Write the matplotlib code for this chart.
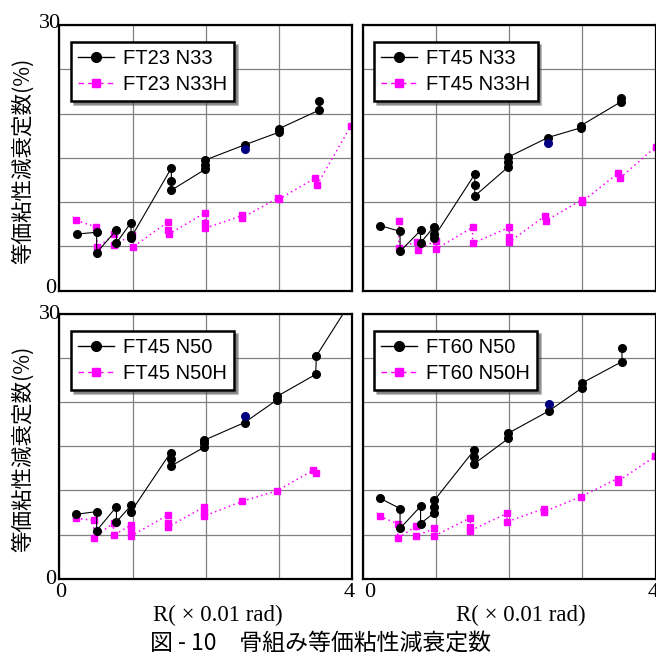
import matplotlib
matplotlib.use('Agg')
import matplotlib.pyplot as plt
from matplotlib.lines import Line2D
from matplotlib.transforms import ScaledTranslation

plt.rcParams['font.family'] = ['Liberation Sans', 'Noto Sans CJK JP', 'DejaVu Sans']

names = ['FT23 N33', 'FT45 N33', 'FT45 N50', 'FT60 N50']

# black series (normal frame), R in 0.01 rad, h in %
bx1 = [0.24, 0.51, 0.51, 0.78, 0.78, 0.98, 0.98, 0.98, 1.53, 1.53, 1.53, 1.99, 1.99, 1.99, 2.54, 3.0, 3.0, 3.55, 3.55]
by1 = [6.4, 6.6, 4.3, 6.85, 5.4, 7.7, 6.3, 6.0, 13.85, 12.4, 11.35, 13.7, 14.2, 14.75, 16.5, 17.9, 18.3, 20.4, 21.4]
bx2 = [0.24, 0.51, 0.51, 0.79, 0.79, 0.97, 0.97, 0.97, 1.53, 1.53, 1.53, 1.99, 1.99, 1.99, 2.53, 2.98, 2.98, 3.52, 3.52]
by2 = [7.35, 6.7, 4.45, 6.8, 5.4, 7.2, 6.35, 6.0, 13.15, 11.9, 10.7, 14.0, 14.5, 15.1, 17.3, 18.4, 18.65, 21.3, 21.8]
bx3 = [0.23, 0.51, 0.51, 0.78, 0.78, 0.98, 0.98, 1.52, 1.52, 1.52, 1.98, 1.98, 1.98, 2.53, 2.97, 2.97, 3.50, 3.51, 3.95]
by3 = [7.3, 7.6, 5.45, 8.15, 6.45, 8.3, 7.6, 14.3, 13.6, 12.75, 14.9, 15.35, 15.7, 17.7, 20.25, 20.65, 23.15, 25.25, 31.0]
bx4 = [0.24, 0.51, 0.51, 0.79, 0.79, 0.98, 0.98, 0.98, 1.52, 1.52, 1.52, 1.99, 1.99, 2.54, 3.0, 3.0, 3.54, 3.54]
by4 = [9.1, 7.95, 5.7, 8.2, 6.25, 7.5, 8.15, 8.9, 14.55, 13.8, 13.0, 15.9, 16.5, 19.0, 21.65, 22.2, 24.6, 26.1]
# how many black points carry a marker (rest is line only)
nmark = [19, 19, 18, 18]

# single navy point at R=2.5
blue_x = [2.53, 2.53, 2.53, 2.54]
blue_y = [15.95, 16.7, 18.45, 19.75]

# magenta series (H)
mx1 = [0.23, 0.50, 0.52, 0.75, 0.75, 0.99, 1.0, 1.49, 1.49, 1.50, 1.99, 1.99, 1.99, 2.5, 2.5, 2.99, 3.0, 3.49, 3.52, 3.98]
my1 = [7.95, 7.2, 4.9, 6.35, 5.15, 6.3, 4.9, 7.8, 6.85, 6.4, 8.8, 7.7, 7.05, 8.5, 8.25, 10.5, 10.35, 12.7, 11.95, 18.6]
mx2 = [0.50, 0.49, 0.74, 0.75, 1.0, 1.0, 1.5, 1.5, 2.0, 2.0, 2.0, 2.49, 2.5, 2.99, 2.99, 3.49, 3.51, 4.0]
my2 = [7.85, 4.8, 5.55, 4.6, 5.65, 4.7, 7.15, 5.35, 7.15, 6.05, 5.5, 8.45, 7.9, 10.25, 10.0, 13.3, 12.7, 16.25]
mx3 = [0.23, 0.47, 0.47, 0.74, 0.74, 0.98, 0.98, 0.98, 1.48, 1.48, 1.48, 1.98, 1.98, 1.98, 2.49, 2.97, 3.47, 3.50]
my3 = [6.85, 6.6, 4.65, 6.3, 4.9, 6.1, 5.5, 4.85, 7.2, 6.3, 5.85, 8.15, 7.6, 7.1, 8.75, 9.95, 12.3, 11.95]
mx4 = [0.23, 0.48, 0.48, 0.73, 0.73, 0.98, 0.98, 1.47, 1.47, 1.47, 1.97, 1.97, 2.48, 2.48, 2.98, 3.48, 3.48, 3.99]
my4 = [7.1, 6.2, 4.6, 5.95, 4.85, 5.7, 4.85, 6.9, 5.85, 5.45, 7.4, 6.45, 7.95, 7.6, 9.3, 11.35, 11.0, 13.85]

black = [(bx1, by1), (bx2, by2), (bx3, by3), (bx4, by4)]
pink = [(mx1, my1), (mx2, my2), (mx3, my3), (mx4, my4)]

fig = plt.figure(figsize=(6.56, 6.57), dpi=100)
boxes = [[0.0904, 0.5575, 0.4466, 0.4044], [0.5529, 0.5575, 0.4466, 0.4044],
         [0.0904, 0.1192, 0.4466, 0.4029], [0.5529, 0.1192, 0.4466, 0.4029]]


def shift(lab, dx, dy):
    # move a tick label by dx, dy points
    lab.set_transform(lab.get_transform() + ScaledTranslation(dx / 72, dy / 72, fig.dpi_scale_trans))


for i in range(4):
    ax = fig.add_axes(boxes[i])
    bx, by = black[i]
    mx, my = pink[i]
    ax.plot(mx, my, color='magenta', lw=1.1, ls=(0, (1, 2.2)), marker='s', ms=4.5, mec='magenta')
    ax.plot(bx, by, color='black', lw=0.8)
    n = nmark[i]
    ax.plot(bx[:n], by[:n], 'o', color='black', ms=5.5)
    ax.plot(blue_x[i], blue_y[i], 'o', color='#000080', ms=5.5)

    ax.set_xlim(0, 4)
    ax.set_ylim(0, 30)
    ax.set_xticks([0, 1, 2, 3, 4])
    ax.set_yticks([0, 5, 10, 15, 20, 25, 30])
    ax.grid(True, color='#808080', lw=0.9)
    ax.tick_params(length=0, labelsize=16, pad=-1)
    for s in ax.spines.values():
        s.set_linewidth(1.6)

    if i % 2 == 0:
        ax.set_yticklabels(['0', '', '', '', '', '', '30'], family='Liberation Serif')
        dy = 3.2 if i == 0 else 1.5
        labs = ax.get_yticklabels()
        shift(labs[0], -3.5, dy)
        shift(labs[6], 0, dy)
        ax.set_ylabel('等価粘性減衰定数(%)', family=['Noto Sans CJK JP'], fontsize=15.5)
        ax.yaxis.set_label_coords(-0.085, 0.49)
    else:
        ax.set_yticklabels([])

    if i >= 2:
        ax.set_xticklabels(['0', '', '', '', '4'], family='Liberation Serif')
        ax.tick_params(axis='x', pad=3)
        labs = ax.get_xticklabels()
        shift(labs[0], 1.2 if i == 2 else 5, 0)
        shift(labs[4], -2, 0)
        ax.set_xlabel('R( × 0.01 rad)', family='Liberation Serif', fontsize=16.5)
        ax.xaxis.set_label_coords(0.54, -0.1)
    else:
        ax.set_xticklabels([])

    handles = [Line2D([], [], color='black', lw=1, marker='o', ms=7),
               Line2D([], [], color='magenta', lw=1, ls=(0, (4, 3)), marker='s', ms=6)]
    leg = ax.legend(handles, [names[i], names[i] + 'H'], loc='upper left',
                    bbox_to_anchor=(0.039, 0.935), borderaxespad=0, fancybox=False,
                    shadow=True, edgecolor='black', framealpha=1, fontsize=14.5,
                    handlelength=1.8, handletextpad=0.45, borderpad=0.35, labelspacing=0.32)
    leg.get_frame().set_linewidth(1.8)

fig.text(320 / 656, 1 - 643 / 657, '図 - 10　骨組み等価粘性減衰定数', ha='center', va='center',
         family=['Noto Sans CJK JP'], fontsize=16.5)

plt.savefig('out.png', dpi=100)
